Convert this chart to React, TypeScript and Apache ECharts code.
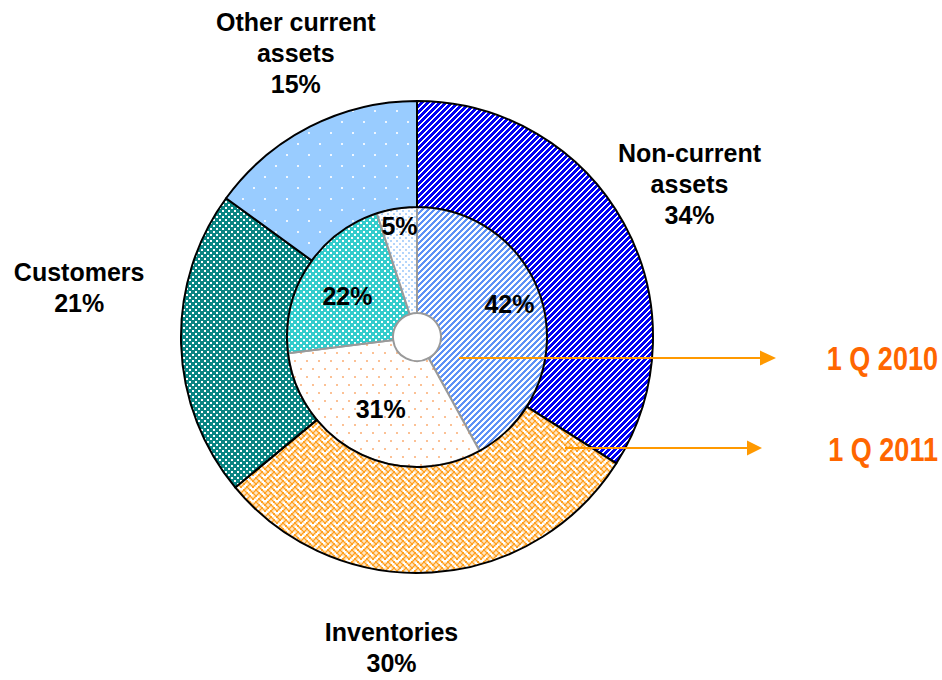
import React, { useEffect, useRef } from 'react';
import * as echarts from 'echarts';

// ---------- data ----------
const SEGMENTS = ['Non-current assets', 'Inventories', 'Customers', 'Other current assets'];
const OUTER_LABELS = ['Non-current\nassets', 'Inventories', 'Customers', 'Other current\nassets'];
const VALUES_2011 = [34, 30, 21, 15]; // outer ring
const VALUES_2010 = [42, 31, 22, 5]; // inner ring
const PERIODS = ['1 Q 2010', '1 Q 2011'];

// ---------- label nudges (px) ----------
const OUTER_NUDGE: [number, number][] = [[0, -3], [-45, 0], [-27, -59], [20, -7]];
const INNER_NUDGE: [number, number][] = [[15, -13], [0, 1], [-2, 2], [-5, -32]];

const FONT = "'Liberation Sans', Arial, sans-serif";

type Pat = { image: string; repeat: string; imageWidth: number; imageHeight: number };

function tile(w: number, h: number, draw: (ctx: CanvasRenderingContext2D) => void): Pat {
  const c = document.createElement('canvas');
  c.width = w;
  c.height = h;
  const ctx = c.getContext('2d') as CanvasRenderingContext2D;
  draw(ctx);
  return { image: c.toDataURL(), repeat: 'repeat', imageWidth: w, imageHeight: h };
}

function stripes(p: number, k: number, fg: string, bg: string): Pat {
  return tile(p, p, (ctx) => {
    ctx.fillStyle = bg;
    ctx.fillRect(0, 0, p, p);
    ctx.fillStyle = fg;
    for (let y = 0; y < p; y++)
      for (let x = 0; x < p; x++) if ((x + y) % p < k) ctx.fillRect(x, y, 1, 1);
  });
}

function dots(w: number, h: number, size: number, fg: string, bg: string): Pat {
  return tile(w, h, (ctx) => {
    ctx.fillStyle = bg;
    ctx.fillRect(0, 0, w, h);
    ctx.fillStyle = fg;
    ctx.fillRect(0, 0, size, size);
    ctx.fillRect(Math.round(w / 2), Math.round(h / 2), size, size);
  });
}

function weave(scale: number, thick: number, fg: string, bg: string): Pat {
  const bits = [0x88, 0x54, 0x22, 0x45, 0x88, 0x14, 0x22, 0x51];
  const s = Math.round(8 * scale);
  return tile(s, s, (ctx) => {
    ctx.fillStyle = bg;
    ctx.fillRect(0, 0, s, s);
    ctx.fillStyle = fg;
    ctx.scale(s / 8, s / 8);
    for (let y = 0; y < 8; y++)
      for (let x = 0; x < 8; x++)
        if (bits[y] & (0x80 >> x))
          for (const ox of [-8, 0])
            for (const oy of [-8, 0]) ctx.fillRect(x + ox, y + oy, thick, thick);
  });
}

export default function App() {
  const ref = useRef<HTMLDivElement>(null);
  useEffect(() => {
    if (!ref.current) return;
    const chart = echarts.init(ref.current, null, { renderer: 'svg' });

    const outerFills = [
      stripes(6, 4, '#0000f5', '#ffffff'),
      weave(1.5, 1.35, '#ffa020', '#ffffff'),
      dots(6, 6, 2, '#ffffff', '#098583'),
      dots(22, 22, 2, '#eef6ff', '#99ccff'),
    ];
    const innerFills = [
      stripes(6, 3, '#5f92f6', '#ffffff'),
      dots(12, 16, 2, '#fcc195', '#ffffff'),
      dots(6, 6, 2, '#ffffff', '#33cccc'),
      dots(6, 6, 2, '#b3d5fb', '#ffffff'),
    ];

    const labelFont = {
      fontFamily: FONT,
      fontWeight: 'bold' as const,
      fontSize: 25,
      lineHeight: 31,
      color: '#000000',
    };

    chart.setOption({
      animation: false,
      backgroundColor: '#ffffff',
      series: [
        {
          type: 'pie',
          name: PERIODS[0],
          center: [417, 337],
          radius: [24, 130],
          startAngle: 90,
          clockwise: true,
          silent: true,
          avoidLabelOverlap: false,
          emphasis: { disabled: true },
          itemStyle: { borderColor: '#9a9a9a', borderWidth: 2 },
          label: {
            show: true,
            position: 'inside',
            formatter: (p: any) => `${p.value}%`,
            ...labelFont,
          },
          labelLine: { show: false },
          labelLayout: (p: any) => ({
            dx: INNER_NUDGE[p.dataIndex][0],
            dy: INNER_NUDGE[p.dataIndex][1],
          }),
          data: VALUES_2010.map((v, i) => ({
            value: v,
            name: SEGMENTS[i],
            itemStyle: { color: innerFills[i] },
          })),
        },
        {
          type: 'pie',
          name: PERIODS[1],
          center: [417, 337],
          radius: [130, 236],
          startAngle: 90,
          clockwise: true,
          silent: true,
          avoidLabelOverlap: false,
          emphasis: { disabled: true },
          itemStyle: { borderColor: '#000000', borderWidth: 2 },
          label: {
            show: true,
            position: 'outside',
            distanceToLabelLine: 0,
            formatter: (p: any) => `${OUTER_LABELS[p.dataIndex]}\n${p.value}%`,
            ...labelFont,
          },
          labelLine: { show: false, length: 75, length2: 0 },
          labelLayout: (p: any) => ({
            align: 'center',
            verticalAlign: 'middle',
            dx: OUTER_NUDGE[p.dataIndex][0],
            dy: OUTER_NUDGE[p.dataIndex][1],
          }),
          data: VALUES_2011.map((v, i) => ({
            value: v,
            name: SEGMENTS[i],
            itemStyle: { color: outerFills[i] },
          })),
        },
      ],
      graphic: [
        { type: 'line', z: 100, shape: { x1: 459, y1: 358, x2: 762, y2: 358 }, style: { stroke: '#ff9900', lineWidth: 2 } },
        { type: 'polygon', z: 100, shape: { points: [[776, 358], [760, 350.5], [760, 365.5]] }, style: { fill: '#ff9900' } },
        { type: 'line', z: 100, shape: { x1: 565, y1: 448, x2: 750, y2: 448 }, style: { stroke: '#ff9900', lineWidth: 2 } },
        { type: 'polygon', z: 100, shape: { points: [[762, 448], [747, 440.5], [747, 455.5]] }, style: { fill: '#ff9900' } },
        {
          type: 'text', z: 100, x: 938, y: 359, scaleX: 0.82,
          style: { text: PERIODS[0], align: 'right', verticalAlign: 'middle', fill: '#ff6600', font: `bold 33px ${FONT}` },
        },
        {
          type: 'text', z: 100, x: 938, y: 450, scaleX: 0.82,
          style: { text: PERIODS[1], align: 'right', verticalAlign: 'middle', fill: '#ff6600', font: `bold 33px ${FONT}` },
        },
      ],
    });
    return () => chart.dispose();
  }, []);
  return (
    <div
      ref={ref}
      style={{ position: 'fixed', left: 0, top: 0, width: 942, height: 680, background: '#fff' }}
    />
  );
}
